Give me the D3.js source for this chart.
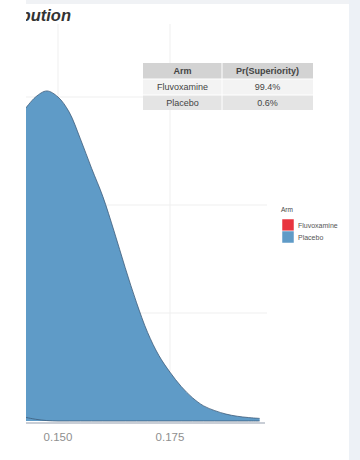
<!DOCTYPE html>
<html>
<head>
<meta charset="utf-8">
<script src="https://cdn.jsdelivr.net/npm/d3@7"></script>
<style>
  body { margin: 0; background: #fff; }
  text { font-family: "Liberation Sans", Arial, sans-serif; }
</style>
</head>
<body>
<script>
// chart size
var svgWidth = 360;
var svgHeight = 460;

// data
var rates = [0.1425, 0.145, 0.1475, 0.150, 0.1525, 0.155, 0.1575, 0.160, 0.1625, 0.165,
  0.1675, 0.170, 0.1725, 0.175, 0.1775, 0.180, 0.1825, 0.185, 0.1875, 0.190, 0.1925, 0.195];
var placebo = [72, 75, 76.4, 75, 71.5, 65.3, 58.5, 52, 44, 35.5,
  27.5, 20.5, 15.2, 11.3, 8.0, 5.4, 3.5, 2.4, 1.6, 1.1, 0.8, 0.6];
var fluvoxamine = [0.9, 0.4, 0.1, 0, 0, 0, 0, 0, 0, 0,
  0, 0, 0, 0, 0, 0, 0, 0, 0, 0, 0, 0];
var xTicks = [0.150, 0.175];
var yTicks = [25, 50, 75];
var arms = ["Fluvoxamine", "Placebo"];
var armColors = ["#e8343f", "#5f9bc7"];
var superiority = ["99.4%", "0.6%"];

var svg = d3.select("body")
  .append("svg")
  .attr("width", svgWidth)
  .attr("height", svgHeight);

// page backdrop
svg.append("rect").attr("width", svgWidth).attr("height", svgHeight).attr("fill", "#fff");
svg.append("rect").attr("x", 26).attr("y", 0).attr("width", 334).attr("height", 4).attr("fill", "#f0f2f5");
svg.append("rect").attr("x", 349).attr("y", 0).attr("width", 11).attr("height", svgHeight).attr("fill", "#edf1f6");

// panel is cropped on the left
var panel = {left: 26, right: 267, top: 24, bottom: 421};

var xScale = d3.scaleLinear()
  .domain([0.14286, 0.19665])
  .range([panel.left, panel.right]);

var yScale = d3.scaleLinear()
  .domain([0, 80])
  .range([panel.bottom, panel.bottom - 80 * 4.32]);

svg.append("clipPath").attr("id", "clip")
  .append("rect")
  .attr("x", panel.left).attr("y", 0)
  .attr("width", panel.right - panel.left + 2).attr("height", 430);

var plot = svg.append("g").attr("clip-path", "url(#clip)");

// grid lines
plot.selectAll(".vgrid")
  .data(xTicks)
  .enter()
  .append("line")
  .attr("x1", d => xScale(d)).attr("x2", d => xScale(d))
  .attr("y1", panel.top).attr("y2", panel.bottom)
  .attr("stroke", "#efefef").attr("stroke-width", 1);

plot.selectAll(".hgrid")
  .data(yTicks)
  .enter()
  .append("line")
  .attr("x1", panel.left).attr("x2", panel.right)
  .attr("y1", d => yScale(d)).attr("y2", d => yScale(d))
  .attr("stroke", "#efefef").attr("stroke-width", 1);

// densities
var area = d3.area()
  .x(d => xScale(d[0]))
  .y0(yScale(0))
  .y1(d => yScale(d[1]))
  .curve(d3.curveCatmullRom);

var line = d3.line()
  .x(d => xScale(d[0]))
  .y(d => yScale(d[1]))
  .curve(d3.curveCatmullRom);

var series = [fluvoxamine, placebo].map(vals => rates.map((r, i) => [r, vals[i]]));

plot.selectAll(".dens")
  .data(series)
  .enter()
  .append("path")
  .attr("d", area)
  .attr("fill", (d, i) => armColors[i]);

plot.selectAll(".outline")
  .data(series.slice().reverse())
  .enter()
  .append("path")
  .attr("d", line)
  .attr("fill", "none")
  .attr("stroke", "#3e5c7a")
  .attr("stroke-width", 0.8);

// baseline
plot.append("line")
  .attr("x1", panel.left).attr("x2", panel.right - 2)
  .attr("y1", 423).attr("y2", 423)
  .attr("stroke", "#c9ced6").attr("stroke-width", 2);

// x tick labels
svg.selectAll(".xlab")
  .data(xTicks)
  .enter()
  .append("text")
  .attr("x", d => xScale(d))
  .attr("y", 441)
  .attr("text-anchor", "middle")
  .style("font-size", "11.5px")
  .style("fill", "#8f8f8f")
  .text(d => d3.format(".3f")(d));

// title (cut off at the left)
svg.append("text")
  .attr("clip-path", "url(#clip)")
  .attr("x", 71)
  .attr("y", 21)
  .attr("text-anchor", "end")
  .style("font-size", "16.5px")
  .style("font-weight", "bold")
  .style("font-style", "italic")
  .style("fill", "#333")
  .text("Distribution");

// table of superiority
var tbl = svg.append("g");
var colX = [143, 222, 313];
var rowY = [63, 79, 95, 110];
var rowFill = ["#d3d3d3", "#f3f3f3", "#e4e4e4"];
var cells = [["Arm", "Pr(Superiority)"]].concat(arms.map((a, i) => [a, superiority[i]]));

cells.forEach(function (row, r) {
  tbl.append("rect")
    .attr("x", colX[0]).attr("y", rowY[r])
    .attr("width", colX[2] - colX[0]).attr("height", rowY[r + 1] - rowY[r])
    .attr("fill", rowFill[r]);
  row.forEach(function (txt, c) {
    tbl.append("text")
      .attr("x", (colX[c] + colX[c + 1]) / 2)
      .attr("y", (rowY[r] + rowY[r + 1]) / 2 + 3.2)
      .attr("text-anchor", "middle")
      .style("font-size", "9px")
      .style("font-weight", r == 0 ? "bold" : "normal")
      .style("fill", "#444")
      .text(txt);
  });
});
tbl.append("line")
  .attr("x1", colX[1]).attr("x2", colX[1])
  .attr("y1", rowY[0]).attr("y2", rowY[3])
  .attr("stroke", "#fff").attr("stroke-width", 1);
tbl.selectAll(".rowline")
  .data([rowY[1], rowY[2]])
  .enter()
  .append("line")
  .attr("x1", colX[0]).attr("x2", colX[2])
  .attr("y1", d => d).attr("y2", d => d)
  .attr("stroke", "#fff");

// legend
var legend = svg.append("g").attr("transform", "translate(281, 212)");
legend.append("text")
  .attr("x", 0).attr("y", 0)
  .style("font-size", "6.5px")
  .style("fill", "#444")
  .text("Arm");
legend.selectAll(".key")
  .data(arms)
  .enter()
  .append("rect")
  .attr("x", 1).attr("y", (d, i) => 7 + i * 12)
  .attr("width", 12).attr("height", 12)
  .attr("fill", (d, i) => armColors[i])
  .attr("stroke", "#fff").attr("stroke-width", 0.5);
legend.selectAll(".klab")
  .data(arms)
  .enter()
  .append("text")
  .attr("x", 17).attr("y", (d, i) => 15.5 + i * 12)
  .style("font-size", "7px")
  .style("fill", "#555")
  .text(d => d);
</script>
</body>
</html>
